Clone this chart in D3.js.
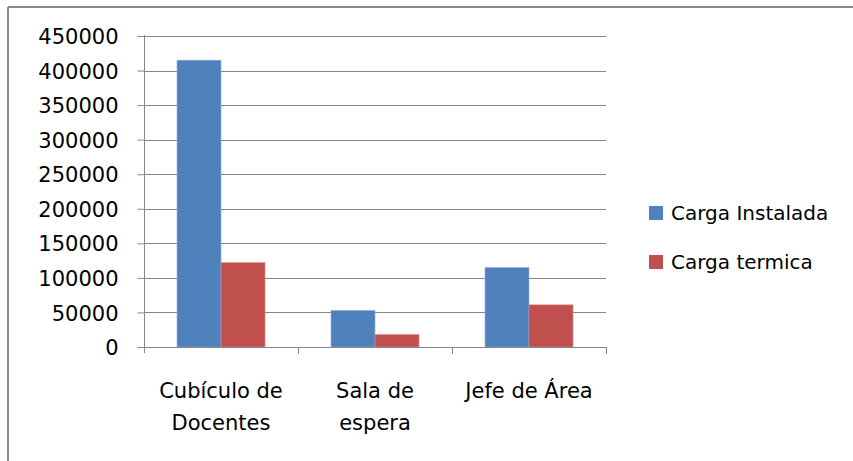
<!DOCTYPE html>
<html>
<head>
<meta charset="utf-8">
<script src="https://cdn.jsdelivr.net/npm/d3@7"></script>
<style>
  html, body { margin: 0; padding: 0; background: #fff; }
  svg { display: block; }
  text { font-family: "DejaVu Sans", sans-serif; fill: #000; }
</style>
</head>
<body>
<svg id="chart" width="853" height="461"></svg>
<script>
// Room categories (each label split into lines)
const categories = ["Cubículo de Docentes", "Sala de espera", "Jefe de Área"];
const categoryLines = [["Cubículo de", "Docentes"], ["Sala de", "espera"], ["Jefe de Área"]];
const seriesNames = ["Carga Instalada", "Carga termica"];
const cargaInstalada = [415000, 53000, 115000];
const cargaTermica = [122000, 18000, 61000];
const yTicks = [0, 50000, 100000, 150000, 200000, 250000, 300000, 350000, 400000, 450000];
const colors = ["#4F81BD", "#C0504D"];

const svg = d3.select("#chart");

// Chart frame (top and left edges visible)
svg.append("line").attr("x1", 8).attr("x2", 853).attr("y1", 7).attr("y2", 7)
  .attr("stroke", "#8a8a8a").attr("stroke-width", 2);
svg.append("line").attr("x1", 8).attr("x2", 8).attr("y1", 7).attr("y2", 461)
  .attr("stroke", "#8a8a8a").attr("stroke-width", 2);

const plot = { left: 144, right: 606, top: 36, bottom: 347 };

const x = d3.scaleBand().domain(categories).range([plot.left, plot.right]).paddingInner(0).paddingOuter(0);
const xs = d3.scaleBand().domain(seriesNames).range([0, x.bandwidth()]).paddingInner(0).paddingOuter(0.75);
const y = d3.scaleLinear().domain([0, 450000]).range([plot.bottom, plot.top]);

// Horizontal gridlines
svg.append("g").selectAll("line").data(yTicks.filter(d => d > 0)).join("line")
  .attr("x1", plot.left).attr("x2", plot.right)
  .attr("y1", d => Math.round(y(d)) + 0.5).attr("y2", d => Math.round(y(d)) + 0.5)
  .attr("stroke", "#868686").attr("stroke-width", 1);

// Bars
const series = [cargaInstalada, cargaTermica];
series.forEach((vals, si) => {
  svg.append("g").selectAll("rect").data(vals).join("rect")
    .attr("x", (d, i) => x(categories[i]) + xs(seriesNames[si]))
    .attr("width", xs.bandwidth())
    .attr("y", d => y(d))
    .attr("height", d => y(0) - y(d))
    .attr("fill", colors[si])
    .attr("stroke", si === 0 ? "#8eb0dc" : "#d98a88")
    .attr("stroke-width", 0.6);
});

// Y axis
const yAxis = d3.axisLeft(y).tickValues(yTicks).tickSize(7).tickPadding(19).tickFormat(d3.format("d"));
const gy = svg.append("g").attr("transform", `translate(${plot.left + 0.5},0)`).call(yAxis);
gy.select(".domain").attr("stroke", "#868686").attr("d", `M0,${plot.top - 1}V${plot.bottom + 6}`);
gy.selectAll(".tick line").attr("stroke", "#868686");
gy.selectAll(".tick text").style("font-size", "21px").attr("dy", "0.36em");

// X axis line and category ticks
svg.append("line").attr("x1", plot.left).attr("x2", plot.right)
  .attr("y1", plot.bottom + 0.5).attr("y2", plot.bottom + 0.5).attr("stroke", "#868686");
const bounds = categories.map(c => x(c)).concat([plot.right]);
svg.append("g").selectAll("line").data(bounds.slice(1)).join("line")
  .attr("x1", d => Math.round(d) + 0.5).attr("x2", d => Math.round(d) + 0.5)
  .attr("y1", plot.bottom).attr("y2", plot.bottom + 7).attr("stroke", "#868686");

// Category labels
const gx = svg.append("g");
categories.forEach((c, i) => {
  const t = gx.append("text")
    .attr("x", x(c) + x.bandwidth() / 2)
    .attr("y", 398)
    .attr("text-anchor", "middle")
    .style("font-size", "21px");
  categoryLines[i].forEach((ln, li) => {
    t.append("tspan").attr("x", x(c) + x.bandwidth() / 2).attr("dy", li === 0 ? 0 : 32).text(ln);
  });
});

// Legend
const legend = svg.append("g");
seriesNames.forEach((s, i) => {
  const cy = 213 + i * 49;
  legend.append("rect").attr("x", 649).attr("y", cy - 7).attr("width", 14).attr("height", 14).attr("fill", colors[i]);
  legend.append("text").attr("x", 671).attr("y", cy).attr("dy", "0.36em").style("font-size", "20px").text(s);
});
</script>
</body>
</html>
